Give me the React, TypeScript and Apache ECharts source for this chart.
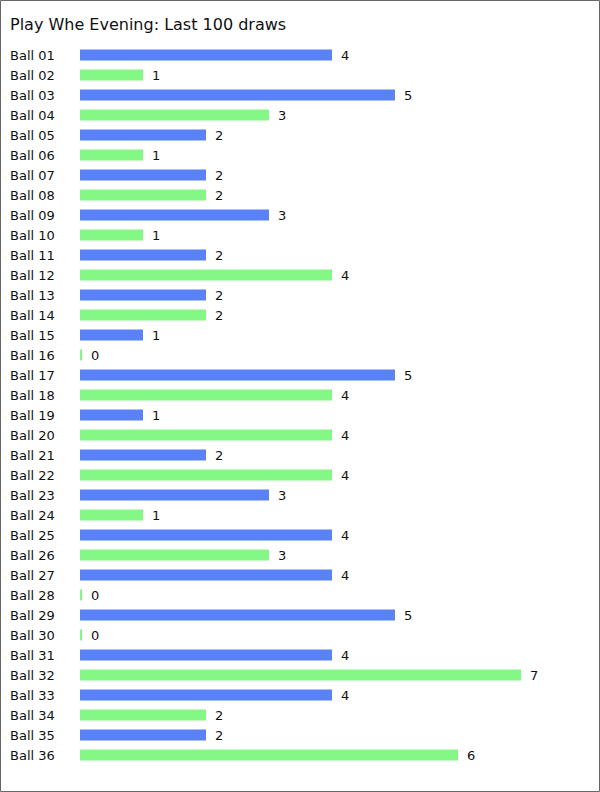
import React, { useEffect, useRef } from "react";
import * as echarts from "echarts";

const categories = Array.from({ length: 36 }, (_, i) => `Ball ${String(i + 1).padStart(2, "0")}`);
const values = [4, 1, 5, 3, 2, 1, 2, 2, 3, 1, 2, 4, 2, 2, 1, 0, 5, 4, 1, 4, 2, 4, 3, 1, 4, 3, 4, 0, 5, 0, 4, 7, 4, 2, 2, 6];
const blue = "#5882f6";
const green = "#84f884";
const titleText = "Play Whe Evening: Last 100 draws";

export default function App() {
  const ref = useRef<HTMLDivElement>(null);
  useEffect(() => {
    const chart = echarts.init(ref.current!, null, { renderer: "svg" });
    const font = "'DejaVu Sans', Verdana, sans-serif";
    chart.setOption({
      animation: false,
      backgroundColor: "#fff",
      title: {
        text: titleText,
        left: 10,
        top: 16,
        padding: 0,
        textStyle: { fontFamily: font, fontSize: 16, fontWeight: "normal", color: "#111" },
      },
      graphic: [
        {
          type: "rect",
          shape: { x: 0.5, y: 0.5, width: 599, height: 791 },
          style: { fill: "none", stroke: "#666", lineWidth: 1 },
          silent: true,
        },
      ],
      grid: { left: 80, top: 45, width: 504, bottom: 27 },
      xAxis: {
        type: "value",
        min: 0,
        max: 8,
        show: false,
      },
      yAxis: {
        type: "category",
        data: categories,
        inverse: true,
        axisLine: { show: false },
        axisTick: { show: false },
        axisLabel: {
          align: "left",
          margin: 70,
          fontFamily: font,
          fontSize: 13,
          color: "#111",
        },
      },
      series: [
        {
          type: "bar",
          data: values.map((v, i) => ({
            value: v,
            itemStyle: { color: i % 2 === 0 ? blue : green },
          })),
          barWidth: 11,
          barMinHeight: 2,
          label: {
            show: true,
            position: "right",
            distance: 9,
            fontFamily: font,
            fontSize: 13,
            color: "#111",
          },
        },
      ],
    });
    return () => chart.dispose();
  }, []);
  return (
    <div
      ref={ref}
      style={{ position: "fixed", left: 0, top: 0, width: 600, height: 792 }}
    />
  );
}
